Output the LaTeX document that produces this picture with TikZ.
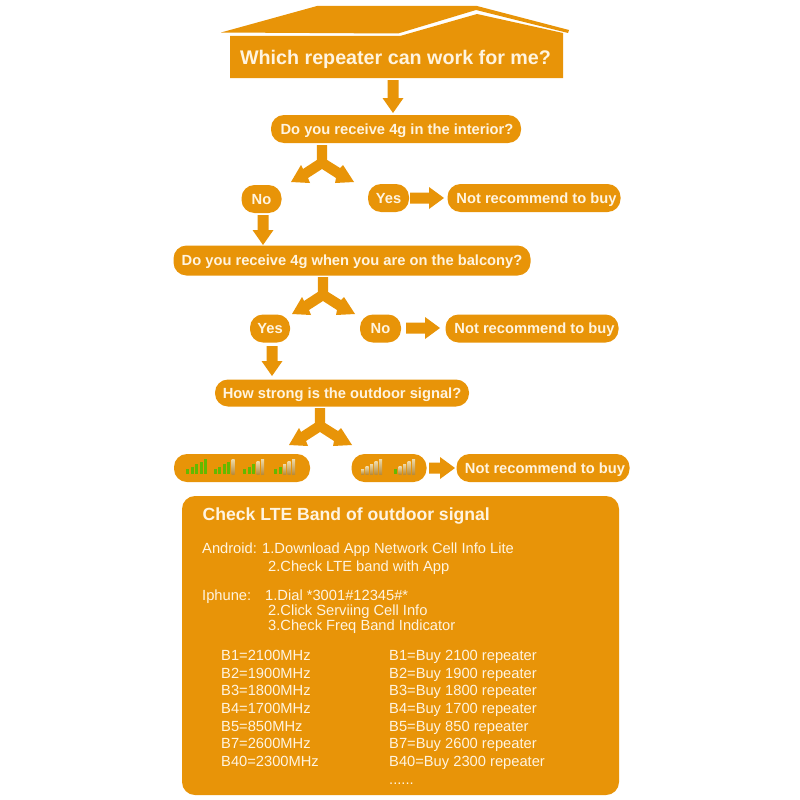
\documentclass[tikz,border=0pt]{standalone}
\usepackage{fontspec}
\setmainfont{Liberation Sans}
\definecolor{org}{RGB}{232,148,8}
\definecolor{pale}{RGB}{255,244,224}
\definecolor{bargreen}{RGB}{100,185,0}
\definecolor{bartop}{RGB}{238,218,170}
\definecolor{barbot}{RGB}{185,140,60}
\tikzset{
  x=1pt,y=-1pt,
  pill/.style={fill=org,rounded corners=13pt,text=pale,font=\bfseries\fontsize{14.7}{16}\selectfont,inner sep=0pt,minimum height=28pt,anchor=center,text height=10.5pt,text depth=0pt},
  body/.style={text=pale,font=\fontsize{14.7}{16}\selectfont,anchor=west,inner sep=0pt,text height=10.5pt,text depth=0pt},
}
\newcommand{\downarrowshape}[3]{\fill[org] (#1-5.5,#2) -- (#1+5.5,#2) -- (#1+5.5,#3-15) -- (#1+10.5,#3-15) -- (#1,#3) -- (#1-10.5,#3-15) -- (#1-5.5,#3-15) -- cycle;}
\newcommand{\rightarrowshape}[3]{\fill[org] (#1,#3-5.5) -- (#2-15,#3-5.5) -- (#2-15,#3-11) -- (#2,#3) -- (#2-15,#3+11) -- (#2-15,#3+5.5) -- (#1,#3+5.5) -- cycle;}
\newcommand{\forkshape}[2]{\fill[org] (#1-5.2,#2) -- (#1+5.2,#2) -- (#1+5.2,#2+15) -- (#1+18,#2+23) -- (#1+21,#2+20) -- (#1+32,#2+37) -- (#1+13,#2+38) -- (#1+14,#2+33) -- (#1,#2+24) -- (#1-14,#2+33) -- (#1-12,#2+38) -- (#1-31,#2+37) -- (#1-21,#2+20) -- (#1-19,#2+24) -- (#1-5.2,#2+15) -- cycle;}
% bars: x, baseline, number of green bars of 5
\newcommand{\barsig}[3]{\foreach \i in {1,...,5}{\pgfmathsetmacro{\h}{2.5+\i*2.5}\pgfmathsetmacro{\bx}{#1+(\i-1)*4.5}\pgfmathtruncatemacro{\g}{\i<=#3?1:0}\ifnum\g=1\fill[bargreen] (\bx,#2) -- (\bx+3,#2) -- (\bx+3,#2-\h) -- (\bx,#2-\h) -- cycle;\else\shade[top color=bartop,bottom color=barbot] (\bx,#2) -- (\bx+3,#2) -- (\bx+3,#2-\h) -- (\bx,#2-\h) -- cycle;\fi}}
\begin{document}
\begin{tikzpicture}
\useasboundingbox (0,0) rectangle (800,800);
\fill[white] (0,0) rectangle (800,800);
% house
\fill[org] (221,32.5) -- (317,6) -- (477,6) -- (569,30) -- (568,33) -- (476,10) -- (398,33.5) -- cycle;
\fill[org] (230,36) -- (400,36) -- (477,14) -- (563,33) -- (563,78) -- (230,78) -- cycle;
\node[text=pale,font=\bfseries\fontsize{19.7}{22}\selectfont,inner sep=0pt,text height=14pt,text depth=0pt] (title) at (395.5,57.5) {Which repeater can work for me?};
\downarrowshape{393}{80}{113}
\node[pill,minimum width=250pt] (q1) at (396,129) {\hspace*{2pt}Do you receive 4g in the interior?};
\forkshape{322}{145}
\node[pill,minimum width=40pt] (no1) at (261.5,199) {No};
\node[pill,minimum width=41pt] (yes1) at (388.5,198) {Yes};
\node[pill,minimum width=173pt] (nr1) at (534,198) {\hspace*{5pt}Not recommend to buy};
\rightarrowshape{410}{444}{198}
\downarrowshape{263}{215}{245}
\node[pill,minimum width=357pt,minimum height=30pt] (q2) at (352,260.5) {Do you receive 4g when you are on the balcony?};
\forkshape{323}{277}
\node[pill,minimum width=40pt] (yes2) at (270,328.5) {Yes};
\node[pill,minimum width=41pt] (no2) at (380.5,328.5) {No};
\node[pill,minimum width=173pt] (nr2) at (532,328.5) {\hspace*{5pt}Not recommend to buy};
\rightarrowshape{406}{440}{328}
\downarrowshape{272}{346}{376}
\node[pill,minimum width=254pt,minimum height=27pt] (q3) at (342,393) {How strong is the outdoor signal?};
\forkshape{320}{408}
\node[pill,minimum width=136pt] (sig1) at (242,468) {};
\node[pill,minimum width=75pt] (sig2) at (389,468) {};
\node[pill,minimum width=173pt] (nr3) at (543,468) {\hspace*{4pt}Not recommend to buy};
\rightarrowshape{429}{455}{468}
\barsig{186}{474}{5}
\barsig{213.5}{474}{4}
\barsig{243}{474}{3}
\barsig{274}{474}{2}
\barsig{361}{474}{0}
\barsig{394}{474}{1}
% panel
\fill[org,rounded corners=13pt] (182,496) rectangle (619,795);
\node[text=pale,font=\bfseries\fontsize{17.6}{18}\selectfont,anchor=west,inner sep=0pt,text height=12pt,text depth=0pt] (head) at (202.5,514) {Check LTE Band of outdoor signal};
\node[body] (a0) at (202,548) {Android:};
\node[body] (a1) at (262,548) {1.Download App Network Cell Info Lite};
\node[body] (a2) at (268,566) {2.Check LTE band with App};
\node[body] (i0) at (202,595) {Iphune:};
\node[body] (i1) at (265,595) {1.Dial *3001\#12345\#*};
\node[body] (i2) at (268,610) {2.Click Serviing Cell Info};
\node[body] (i3) at (268,625) {3.Check Freq Band Indicator};
\foreach \n/\a/\b/\y in {1/B1=2100MHz/B1=Buy 2100 repeater/655,2/B2=1900MHz/B2=Buy 1900 repeater/673,3/B3=1800MHz/B3=Buy 1800 repeater/690.5,4/B4=1700MHz/B4=Buy 1700 repeater/708,5/B5=850MHz/B5=Buy 850 repeater/726,6/B7=2600MHz/B7=Buy 2600 repeater/743.5,7/B40=2300MHz/B40=Buy 2300 repeater/761}{
  \node[body] (l\n) at (221,\y) {\a};
  \node[body] (r\n) at (389,\y) {\b};
}
\node[body] (dots) at (389,779) {......};
\end{tikzpicture}
\end{document}
